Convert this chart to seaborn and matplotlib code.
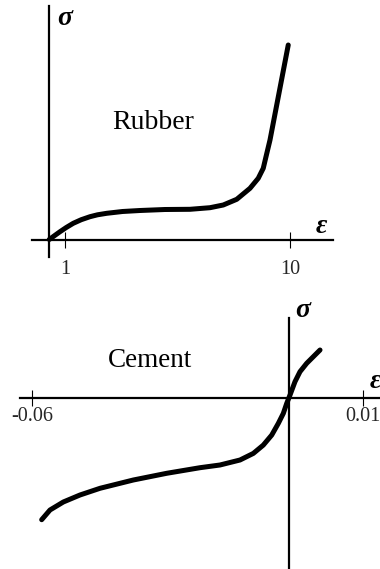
import matplotlib
matplotlib.use("Agg")
import matplotlib.pyplot as plt
import pandas as pd
import seaborn as sns

# Rubber: stress vs. strain (stress in arbitrary units)
rubber_strain = [0.37, 0.6, 0.8, 1.05, 1.33, 1.65, 2.0, 2.3, 2.67, 3.3, 4.0,
                 5.0, 6.0, 6.8, 7.33, 7.87, 8.4, 8.73, 8.93, 9.04, 9.2, 9.93]
rubber_stress = [0.0, 0.42, 0.78, 1.2, 1.62, 1.98, 2.28, 2.47, 2.62, 2.8, 2.9,
                 3.0, 3.02, 3.18, 3.45, 4.02, 5.12, 6.12, 7.12, 8.28, 9.95,
                 19.45]
rubber_ticks = [1, 10]
rubber_ticklabels = ["1", "10"]

# Cement: stress vs. strain (compression negative)
cement_strain = [-0.05795, -0.05619, -0.05337, -0.04984, -0.04560, -0.03855,
                 -0.03148, -0.02443, -0.02020, -0.01596, -0.01314, -0.01103,
                 -0.00925, -0.00785, -0.00679, -0.00607, -0.00537, -0.00432,
                 -0.00326, -0.00184, -0.00044, 0.00098]
cement_stress = [-12.22, -11.25, -10.45, -9.75, -9.08, -8.25, -7.58, -7.02,
                 -6.75, -6.25, -5.59, -4.76, -3.76, -2.59, -1.59, -0.59, 0.25,
                 1.58, 2.58, 3.42, 4.08, 4.75]
cement_ticks = [-0.06, 0.01]
cement_ticklabels = ["-0.06", "0.01"]

rubber = pd.DataFrame({"strain": rubber_strain, "stress": rubber_stress})
cement = pd.DataFrame({"strain": cement_strain, "stress": cement_stress})

sns.set_theme(style="white")
SERIF = ["Liberation Serif", "DejaVu Serif"]

W, H = 380, 569
fig = plt.figure(figsize=(W / 100, H / 100), dpi=100)
ax1 = fig.add_axes([32 / W, 1 - 257 / H, 301 / W, 251 / H])
ax2 = fig.add_axes([20 / W, 0, 360 / W, (H - 317.7) / H])


def style_axes(ax, xlim, ylim, yaxis_x, ticks, labels, pad):
    ax.set_xlim(*xlim)
    ax.set_ylim(*ylim)
    ax.set_facecolor("white")
    for side in ("top", "right"):
        ax.spines[side].set_visible(False)
    ax.spines["left"].set_position(("data", yaxis_x))
    ax.spines["bottom"].set_position(("data", 0))
    for side in ("left", "bottom"):
        ax.spines[side].set_linewidth(1.6)
        ax.spines[side].set_color("black")
    ax.set_yticks([])
    ax.set_xticks(ticks)
    ax.set_xticklabels(labels, fontfamily=SERIF, fontsize=14.5)
    ax.tick_params(axis="x", direction="inout", length=11, width=0.8,
                   color="black", pad=pad, bottom=True)
    ax.set_xlabel("")
    ax.set_ylabel("")


sns.lineplot(data=rubber, x="strain", y="stress", ax=ax1, color="black",
             linewidth=3.6, sort=False, estimator=None, legend=False,
             solid_capstyle="round", solid_joinstyle="round")
style_axes(ax1, (-0.32, 11.72), (-1.75, 23.35), 0.37,
           rubber_ticks, rubber_ticklabels, pad=9)

sns.lineplot(data=cement, x="strain", y="stress", ax=ax2, color="black",
             linewidth=3.6, sort=False, estimator=None, legend=False,
             solid_capstyle="round", solid_joinstyle="round")
style_axes(ax2, (-0.06254, 0.01368), (-17.15, 7.98), -0.00569,
           cement_ticks, cement_ticklabels, pad=1)

sym = dict(fontfamily=SERIF, fontsize=20, fontweight="bold",
           fontstyle="italic", color="black", clip_on=False)

# Rubber panel annotations
ax1.text(1.0, 21.45, "σ", ha="center", va="baseline", **sym)
ax1.text(11.26, 0.65, "ε", ha="center", va="baseline", **sym)
ax1.text(4.52, 11.05, "Rubber", ha="center", va="baseline",
         fontfamily=SERIF, fontsize=20, color="black")

# Cement panel annotations
ax2.text(-0.00263, 8.05, "σ", ha="center", va="baseline", **sym)
ax2.text(0.0127, 0.95, "ε", ha="center", va="baseline", **sym)
ax2.text(-0.03502, 3.02, "Cement", ha="center", va="baseline",
         fontfamily=SERIF, fontsize=19.5, color="black")

fig.savefig("out.png", dpi=100, facecolor="white")
